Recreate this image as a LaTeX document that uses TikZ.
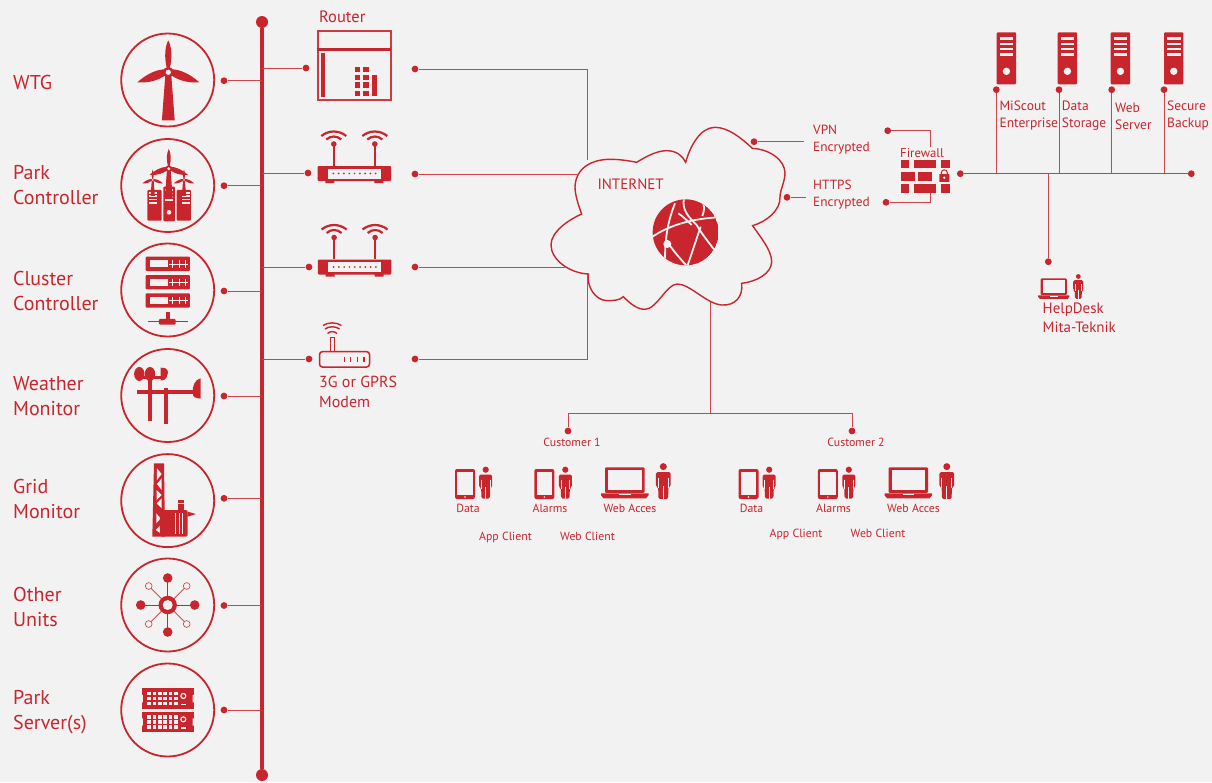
\documentclass[tikz,border=0pt]{standalone}
\usepackage{fontspec}
\setmainfont{PT Sans}
\definecolor{bg}{HTML}{F2F2F2}
\definecolor{rd}{HTML}{C9252D}
\tikzset{
  conn/.style={draw=rd!85!bg,line width=1pt},
  dot/.style={circle,fill=rd,inner sep=0pt,minimum size=6.8pt},
  enddot/.style={circle,fill=rd,inner sep=0pt,minimum size=12pt},
  ring/.style={circle,draw=rd,line width=1.8pt,inner sep=0pt,minimum size=93pt},
  big/.style={text=rd,anchor=west,align=left,inner sep=0pt,font=\fontsize{20}{25}\selectfont},
  mid/.style={text=rd,anchor=west,align=left,inner sep=0pt,font=\fontsize{16}{20}\selectfont},
  sml/.style={text=rd,anchor=west,align=left,inner sep=0pt,font=\fontsize{13.5}{17}\selectfont},
  tiny/.style={text=rd,anchor=center,align=center,inner sep=0pt,font=\fontsize{11.8}{14}\selectfont},
  person/.pic={
    \fill[rd] (0,3.2) circle (3.1);
    \fill[rd,rounded corners=1.5pt] (-6.5,21) -- (-6.5,8) -- (6.5,8) -- (6.5,21) -- (4.6,21) -- (4.2,32) -- (-4.2,32) -- (-4.6,21) -- cycle;
    \draw[bg,line width=.7pt] (-4.4,13) -- (-4.4,22) (4.4,13) -- (4.4,22) (0,20) -- (0,32);
  },
  tablet/.pic={
    \fill[rd,rounded corners=2pt] (0,0) rectangle (20,30);
    \fill[bg] (2.2,3) rectangle (17.8,26);
    \fill[bg] (10,28) circle (.8);
  },
  laptop/.pic={
    \fill[rd,rounded corners=1pt] (0,0) rectangle (39.5,25.5);
    \fill[bg] (3,3) rectangle (36.5,22.5);
    \fill[rd] (-4,26) -- (43.5,26) -- (43.5,28) -- (41,31) -- (-1.5,31) -- (-4,28) -- cycle;
    \fill[bg] (14,26.6) rectangle (25.5,28);
  },
  tower/.pic={
    \fill[rd,rounded corners=1pt] (0,0) rectangle (19.4,52);
    \foreach \yy in {6,11.5,16.8,22.2}{\fill[bg] (2.8,\yy-1.2) rectangle (16.6,\yy+1.2);}
    \fill[bg] (9.7,39) circle (3.7);
  },
  wifirouter/.pic={
    \fill[rd,rounded corners=1pt] (-36.7,-7.5) rectangle (36.7,7.5);
    \fill[rd] (-29,7) rectangle (-20,9.5) (20,7) rectangle (29,9.5);
    \fill[bg] (-26.5,-5) rectangle (26.5,5);
    \foreach \xx in {-21,-15.7,-10.4,-5.1,.2,5.5,10.8,16,21.3}{\fill[rd] (\xx,0) circle (.95);}
    \foreach \xx in {-20.5,20.5}{
      \draw[rd,line width=1.5pt] (\xx,-8) -- (\xx,-29);
      \fill[rd] (\xx,-29.5) circle (2.8);
      \draw[rd,line width=2.2pt] (\xx-7.5,-34) .. controls (\xx-3,-38) and (\xx+3,-38) .. (\xx+7.5,-34);
      \draw[rd,line width=2.2pt] (\xx-12.5,-37.5) .. controls (\xx-5,-43.5) and (\xx+5,-43.5) .. (\xx+12.5,-37.5);
    }
  },
  turbine/.pic={
    \fill[rd] (-3,3) -- (3,3) -- (6.4,48) -- (-6.4,48) -- cycle;
    \fill[rd] (0,-32) .. controls (-3.6,-25) and (-4,-15) .. (-1.5,-4) -- (1.5,-4) .. controls (4,-15) and (3.6,-25) .. (0,-32) -- cycle;
    \fill[rd] (31,10) .. controls (22,2) and (12,-3) .. (3,-3) -- (3,3) .. controls (10,8) and (20,11) .. (31,10) -- cycle;
    \fill[rd] (-31,10) .. controls (-22,2) and (-12,-3) .. (-3,-3) -- (-3,3) .. controls (-10,8) and (-20,11) .. (-31,10) -- cycle;
    \fill[rd] (0,0) circle (5.4);
    \fill[bg] (0,0) circle (2.6);
  }
}
\begin{document}
\begin{tikzpicture}[x=1pt,y=-1pt]
\useasboundingbox (0,0) rectangle (1212,782);
\fill[bg] (0,0) rectangle (1212,782);

% main bus
\node[enddot] (busT) at (262,22) {};
\node[enddot] (busB) at (262,775) {};
\draw[rd,line width=3.8pt] (busT) -- (busB);

% device rings, dots and stubs
\foreach \n/\yy/\dy in {1/80/80.7,2/185.5/185.7,3/290/291,4/395.5/396,5/500.6/498.3,6/605/605.5,7/710/710}{
  \node[ring] (r\n) at (167.7,\yy) {};
  \node[dot] (ld\n) at (224,\dy) {};
  \coordinate (lb\n) at (262,\dy);
  \draw[conn] (ld\n) -- (lb\n);
}
\node[big] (tWTG) at (13,82) {WTG};
\node[big] (tPark) at (13,185) {Park\\Controller};
\node[big] (tClus) at (13,291) {Cluster\\Controller};
\node[big] (tWeat) at (13,396.5) {Weather\\Monitor};
\node[big] (tGrid) at (13,499) {Grid\\Monitor};
\node[big] (tOther) at (13,606.5) {Other\\Units};
\node[big] (tServ) at (13,712.5) {Park\\Server(s)};

% WTG icon
\pic at (168.3,72.3) {turbine};

% Park controller icon
\begin{scope}[shift={(110,20)},x=.3333pt,y=-.3333pt]
  \fill[rd,rounded corners=1pt] (112,510) rectangle (155,602);
  \fill[rd,rounded corners=1pt] (160,500) rectangle (195,604);
  \fill[rd,rounded corners=1pt] (200,510) rectangle (243,602);
  \foreach \xa/\xb/\ya in {116/140/516,165/190/508,215/239/516}{
    \foreach \k in {0,1,2,3}{\fill[bg] (\xa,\ya+\k*10) rectangle (\xb,\ya+\k*10+5);}
  }
  \fill[bg] (177,577) circle (7);
\end{scope}
\pic[scale=.62] at (168.8,168.7) {turbine};
\pic[scale=.33] at (152.7,180) {turbine};
\pic[scale=.33] at (184,180) {turbine};

% Cluster controller icon
\begin{scope}[shift={(110,235)},x=.3333pt,y=-.3333pt]
  \foreach \yy in {65,120,175}{
    \fill[rd,rounded corners=1pt] (107,\yy) rectangle (240,\yy+43);
    \fill[bg] (120,\yy+11) rectangle (175,\yy+32);
    \draw[bg,line width=.6pt] (178,\yy+22) -- (235,\yy+22);
    \foreach \xx in {188,207,226}{\draw[bg,line width=.6pt] (\xx,\yy+11) -- (\xx,\yy+33);}
  }
  \draw[rd,line width=1.2pt] (113,260) -- (233,260);
  \fill[rd,rounded corners=1pt] (147,252) rectangle (197,269);
  \fill[rd] (167,232) rectangle (181,255);
\end{scope}

% Weather icon
\begin{scope}[shift={(110,235)},x=.3333pt,y=-.3333pt]
  \fill[rd] (88,417) ellipse [x radius=5.2pt,y radius=7pt];
  \fill[rd] (120,417) ellipse [x radius=5.2pt,y radius=7pt];
  \fill[rd] (152,398) .. controls (172,396) and (178,410) .. (172,420) .. controls (170,432) and (160,438) .. (152,436) -- cycle;
  \fill[rd] (88,423) rectangle (160,431);
  \fill[rd] (113,420) rectangle (127,557);
  \fill[rd] (162,460) rectangle (175,566);
  \fill[rd] (80,465) rectangle (250,478);
  \fill[rd] (272,430) .. controls (255,432) and (246,455) .. (248,475) .. controls (248,485) and (255,490) .. (272,491) -- cycle;
\end{scope}

% Grid icon
\begin{scope}[shift={(110,450)},x=.3333pt,y=-.3333pt]
  \fill[rd] (132,40) -- (162,40) -- (165,260) -- (127,260) -- cycle;
  \fill[bg] (141,55) -- (155,72) -- (141,90) -- cycle;
  \fill[bg] (155,85) -- (155,120) -- (141,102) -- cycle;
  \fill[bg] (140,120) -- (155,135) -- (140,150) -- cycle;
  \fill[bg] (155,145) -- (155,175) -- (140,160) -- cycle;
  \fill[bg] (139,190) -- (152,205) -- (139,220) -- cycle;
  \fill[bg] (152,225) -- (152,250) -- (137,240) -- cycle;
  \fill[rd,rounded corners=2pt] (150,180) rectangle (233,260);
  \fill[rd] (205,150) rectangle (223,185);
  \fill[bg] (205,158) rectangle (223,161);
  \fill[rd] (233,185) -- (258,192) -- (233,200) -- cycle;
  \foreach \xx in {196,206,216}{\fill[bg] (\xx,190) rectangle (\xx+3,252);}
\end{scope}

% Other units icon
\begin{scope}[shift={(167.7,605)}]
  \draw[rd,line width=1pt] (-27,0) -- (27,0) (0,-27) -- (0,27);
  \draw[rd!80!bg,line width=.8pt] (-19,-19) -- (19,19) (-19,19) -- (19,-19);
  \foreach \a/\b in {-27/0,27/0,0/-27,0/27}{\fill[rd] (\a,\b) circle (4.8);}
  \foreach \a/\b in {-19/-19,19/-19,-19/19,19/19}{\filldraw[fill=bg,draw=rd!80!bg,line width=.7pt] (\a,\b) circle (3.4);}
  \fill[rd] (0,0) circle (9.2);
  \fill[bg] (0,0) circle (5);
\end{scope}

% Park server icon
\begin{scope}[shift={(110,450)},x=.3333pt,y=-.3333pt]
  \foreach \yy in {715,785}{
    \fill[rd] (95,\yy) rectangle (252,\yy+62);
    \fill[bg] (93,\yy+20) rectangle (99,\yy+42) (248,\yy+20) rectangle (254,\yy+42);
    \foreach \cc in {0,...,5}{\foreach \rr in {0,1,2}{
      \fill[bg] (112+\cc*16,\yy+11+\rr*15) rectangle (123+\cc*16,\yy+21+\rr*15);
    }}
    \draw[bg,line width=1.2pt] (220,\yy+23) circle (2.5pt);
    \fill[bg] (213,\yy+46) rectangle (228,\yy+51);
  }
\end{scope}

% Router block
\node[mid,font=\fontsize{16.5}{19}\selectfont] (tRouter) at (319,16.5) {Router};
\node[draw=rd!90!bg,line width=1.8pt,inner sep=0pt,minimum width=73pt,minimum height=69pt] (router) at (354.2,65.3) {};
\fill[rd] (317.3,47.5) rectangle (391,51);
\fill[rd] (321,53.3) rectangle (324.7,96.7);
\foreach \xa in {355,363.3}{\foreach \ya in {66.7,75,82.3,90.7}{\fill[rd] (\xa,\ya) rectangle (\xa+5.2,\ya+5.2);}}
\fill[rd] (372,75) rectangle (377.3,96);

% wifi routers
\pic at (354.3,173.5) {wifirouter};
\pic at (354.6,267) {wifirouter};

% modem
\node[draw=rd,line width=1.5pt,rounded corners=3pt,inner sep=0pt,minimum width=50pt,minimum height=15.5pt] (modem) at (344.5,359.3) {};
\foreach \xx in {344.3,350.7,357.3,364}{\draw[rd,line width=1.1pt] (\xx,356.5) -- (\xx,362);}
\draw[rd,line width=1pt] (330.6,351) -- (330.6,337) -- (334,337) -- (334,351);
\draw[rd,line width=1.4pt] (327.5,333.5) .. controls (330,331) and (334.5,331) .. (337,333.5);
\draw[rd,line width=1.4pt] (325,329) .. controls (329,326) and (335.5,326) .. (339.5,329);
\draw[rd,line width=1.4pt] (323,325.5) .. controls (328,322) and (336.5,322) .. (341.5,325.5);
\node[mid] (tModem) at (319,392) {3G or GPRS\\Modem};

% stubs right of main bus
\foreach \n/\xx/\yy in {1/306/68,2/308/173,3/309/267,4/309/359}{
  \node[dot] (rd\n) at (\xx,\yy) {};
  \coordinate (rb\n) at (262,\yy);
  \draw[conn] (rb\n) -- (rd\n);
}

% cloud
\begin{scope}[shift={(540,110)},x=.3333pt,y=-.3333pt]
  \draw[rd,line width=1.4pt,line join=miter] (290,157)
    .. controls (325,135) and (355,122) .. (380,122)
    .. controls (410,122) and (428,138) .. (437,157)
    .. controls (450,110) and (480,52) .. (525,52)
    .. controls (565,52) and (605,85) .. (637,115)
    .. controls (690,118) and (735,150) .. (735,190)
    .. controls (735,215) and (720,240) .. (720,262)
    .. controls (722,300) and (680,335) .. (638,347)
    .. controls (660,380) and (695,420) .. (695,455)
    .. controls (695,490) and (650,515) .. (605,520)
    .. controls (610,560) and (585,588) .. (545,585)
    .. controls (500,582) and (450,522) .. (412,522)
    .. controls (380,522) and (350,598) .. (315,598)
    .. controls (290,598) and (270,580) .. (250,560)
    .. controls (240,572) and (215,572) .. (200,572)
    .. controls (165,570) and (140,530) .. (145,492)
    .. controls (90,490) and (33,450) .. (33,405)
    .. controls (33,365) and (85,330) .. (125,312)
    .. controls (115,285) and (105,255) .. (105,230)
    .. controls (108,170) and (160,148) .. (210,148)
    .. controls (240,148) and (265,152) .. (290,157) -- cycle;
  % globe
  \begin{scope}
    \clip (437,367) circle (33pt);
    \fill[rd] (437,367) circle (33pt);
    \draw[bg,line width=1.8pt] (335,382) .. controls (380,350) and (450,325) .. (540,322);
    \draw[bg,line width=1.8pt] (405,280) .. controls (385,330) and (375,380) .. (375,450);
    \draw[bg,line width=1.8pt] (432,265) .. controls (425,300) and (445,320) .. (470,345) .. controls (490,380) and (510,400) .. (530,430);
    \draw[bg,line width=1.8pt] (482,350) -- (440,475);
    \draw[bg,line width=1.8pt] (385,400) .. controls (405,430) and (425,450) .. (442,470);
    \draw[bg,line width=1.8pt] (490,280) .. controls (495,295) and (490,310) .. (487,318);
    \draw[bg,line width=1.8pt] (415,310) .. controls (430,320) and (445,335) .. (455,345);
    \fill[bg] (382,402) circle (4pt);
  \end{scope}
\end{scope}
\node[sml,font=\fontsize{15}{16}\selectfont] (tNet) at (597.3,184) {INTERNET};

% site links into the cloud
\node[dot] (s1) at (415,69) {};
\node[dot] (s2) at (415,174) {};
\node[dot] (s3) at (415,267) {};
\node[dot] (s4) at (415,359) {};
\coordinate (c1) at (587,160);
\coordinate (c2) at (577,174);
\coordinate (c3) at (565,267);
\coordinate (c4) at (587,274);
\draw[conn] (s1) -| (c1);
\draw[conn] (s2) -- (c2);
\draw[conn] (s3) -- (c3);
\draw[conn] (s4) -| (c4);

% customers
\coordinate (c5) at (710,302);
\coordinate (split) at (710,413);
\node[dot] (cu1) at (568,431) {};
\node[dot] (cu2) at (852,431) {};
\draw[conn] (c5) -- (split);
\draw[conn] (cu1) |- (split);
\draw[conn] (cu2) |- (split);
\node[tiny] (tCu1) at (572,442) {Customer 1};
\node[tiny] (tCu2) at (856,442) {Customer 2};
\foreach \n/\sx in {a/0,b/283.5}{
  \begin{scope}[shift={(\sx,0)}]
    \pic at (455,469) {tablet};
    \pic at (485.7,466.5) {person};
    \pic at (534.3,469) {tablet};
    \pic at (565.3,466.5) {person};
    \pic at (605,467.3) {laptop};
    \pic[scale=1.13] at (663.3,463) {person};
    \node[tiny] (tData\n) at (468,508.5) {Data};
    \node[tiny] (tAlarm\n) at (550,508.5) {Alarms};
    \node[tiny] (tWeb\n) at (630,508.5) {Web Acces};
  \end{scope}
}
\node[tiny] (tApp1) at (505.5,537) {App Client};
\node[tiny] (tWC1) at (587.5,536) {Web Client};
\node[tiny] (tApp2) at (796,534.5) {App Client};
\node[tiny] (tWC2) at (878,533) {Web Client};

% encrypted links
\node[dot] (vpnL) at (754,141.7) {};
\coordinate (vpnR) at (804,141.7);
\draw[conn] (vpnL) -- (vpnR);
\node[dot] (httpsL) at (787,197.3) {};
\coordinate (httpsR) at (806,197.3);
\draw[conn] (httpsL) -- (httpsR);
\node[sml,font=\fontsize{13.3}{17}\selectfont] (tVpn) at (813,139.5) {VPN\\Encrypted};
\node[sml,font=\fontsize{13.3}{17}\selectfont] (tHttps) at (813,195) {HTTPS\\Encrypted};

% firewall
\node[sml,font=\fontsize{12.7}{15}\selectfont] (tFire) at (900,153.5) {Firewall};
\node[dot] (fwA) at (887.7,130.7) {};
\node[dot] (fwB) at (886,202.3) {};
\coordinate (fwC) at (930,147);
\coordinate (fwD) at (930,193);
\draw[conn] (fwA) -| (fwC);
\draw[conn] (fwB) -| (fwD);
\begin{scope}[shift={(800,20)},x=.3333pt,y=-.3333pt]
  \foreach \a/\b/\c/\d in {302/328/420/445,343/408/420/445,423/449/420/445,302/345/455/482,355/397/455/482,302/328/493/519,343/408/493/519,423/449/493/519}{
    \fill[rd] (\a,\c) rectangle (\b,\d);
  }
  \fill[rd,rounded corners=.5pt] (418,462) rectangle (448,486);
  \draw[rd,line width=1pt] (424,462) -- (424,458) .. controls (424,447) and (442,447) .. (442,458) -- (442,462);
  \fill[bg] (433,473) circle (1.3pt);
\end{scope}

% server side
\node[dot] (hubL) at (960.3,173.7) {};
\node[dot] (hubR) at (1191.3,173.7) {};
\draw[rd!90!bg,line width=1.4pt] (hubL) -- (hubR);
\foreach \n/\xx/\sx in {1/996.3/996.7,2/1059/1057.7,3/1111.7/1110.7,4/1164/1164}{
  \pic at (\sx,32.3) {tower};
  \node[dot] (sv\n) at (\xx,89.7) {};
  \coordinate (svb\n) at (\xx,173.7);
  \draw[conn] (sv\n) -- (svb\n);
}
\node[sml] (tMi) at (999.3,116) {MiScout\\Enterprise};
\node[sml] (tData) at (1061.7,116) {Data\\Storage};
\node[sml] (tWebS) at (1115,116) {Web\\Server};
\node[sml] (tSec) at (1167,116) {Secure\\Backup};

% helpdesk
\coordinate (hdb) at (1048.3,173.7);
\node[dot] (hd) at (1048.3,261.7) {};
\draw[conn] (hdb) -- (hd);
\pic[scale=.66] at (1040.7,278.3) {laptop};
\pic[scale=.78] at (1078.3,274) {person};
\node[mid,font=\fontsize{15}{19}\selectfont] (tHelp) at (1042.5,317.5) {HelpDesk\\Mita-Teknik};
\end{tikzpicture}
\end{document}
